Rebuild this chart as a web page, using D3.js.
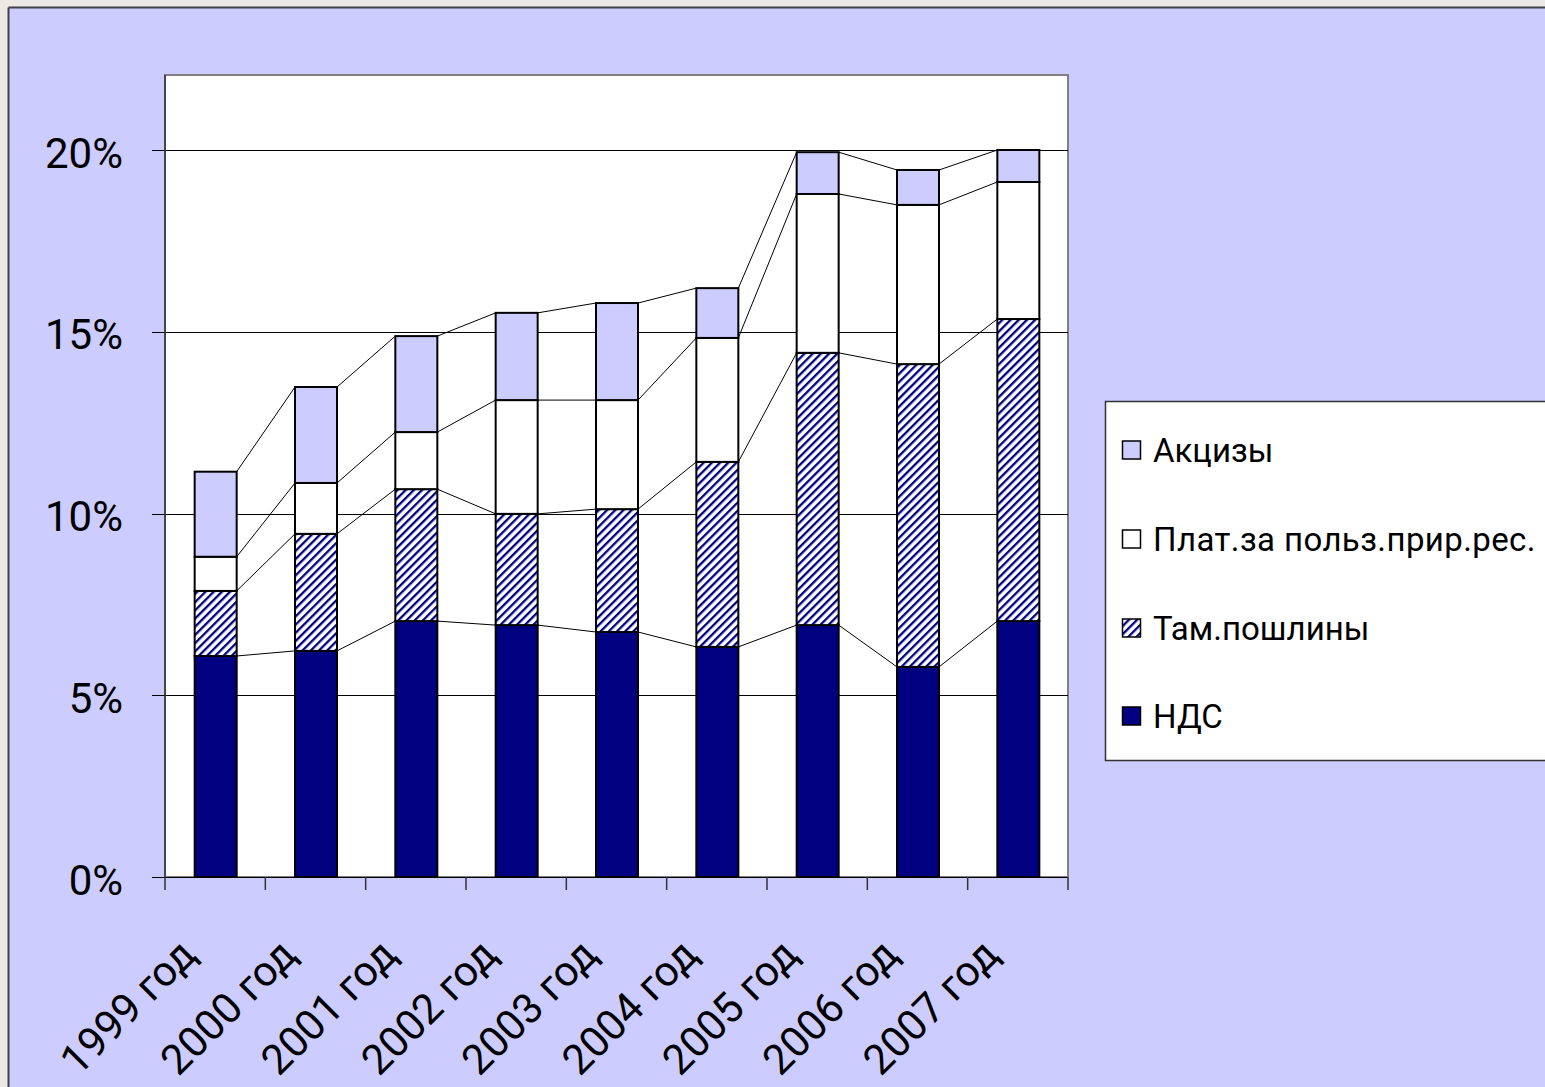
<!DOCTYPE html>
<html><head><meta charset="utf-8">
<script src="https://cdn.jsdelivr.net/npm/d3@7/dist/d3.min.js"></script>
<style>html,body{margin:0;padding:0;background:#ece9e4;overflow:hidden}</style>
</head><body>
<script>
const categories = ["1999 год","2000 год","2001 год","2002 год","2003 год","2004 год","2005 год","2006 год","2007 год"];
const nds     = [6.08, 6.22, 7.04, 6.93, 6.74, 6.33, 6.93, 5.78, 7.04];
const tam     = [1.79, 3.22, 3.63, 3.06, 3.38, 5.09, 7.49, 8.33, 8.31];
const plat    = [0.94, 1.40, 1.57, 3.13, 3.00, 3.41, 4.37, 4.38, 3.77];
const akciz   = [2.34, 2.64, 2.64, 2.40, 2.67, 1.37, 1.15, 0.96, 0.88];
const seriesNames = ["НДС","Там.пошлины","Плат.за польз.прир.рес.","Акцизы"];
const yTicks = [0,5,10,15,20];

(function(){
const W = 1545, H = 1087;
const svg = d3.select("body").append("svg").attr("width", W).attr("height", H);
const defs = svg.append("defs");
const pw = 5.8;
const pat = defs.append("pattern").attr("id","hatch").attr("patternUnits","userSpaceOnUse")
  .attr("width",pw).attr("height",pw).attr("patternTransform","rotate(45)");
pat.append("rect").attr("width",pw).attr("height",pw).attr("fill","#fff");
pat.append("rect").attr("x",0).attr("y",0).attr("width",2.3).attr("height",pw).attr("fill","#000080");

// page frame
svg.append("rect").attr("x",0).attr("y",0).attr("width",W).attr("height",H).attr("fill","#ece9e4");
svg.append("rect").attr("x",9).attr("y",8).attr("width",W).attr("height",H).attr("fill","#ccccff");
svg.append("line").attr("x1",8.5).attr("y1",7.5).attr("x2",W).attr("y2",7.5).attr("stroke","#404048").attr("stroke-width",2);
svg.append("line").attr("x1",8.5).attr("y1",7.5).attr("x2",8.5).attr("y2",H).attr("stroke","#404048").attr("stroke-width",2);

const pLeft = 165, pRight = 1068, pTop = 75, pBottom = 877;
const x = d3.scaleBand().domain(categories).range([pLeft, pRight]).paddingInner(0).paddingOuter(0);
const y = d3.scaleLinear().domain([0,20]).range([pBottom, 150]);

// plot area
svg.append("rect").attr("x",pLeft).attr("y",pTop).attr("width",pRight-pLeft).attr("height",pBottom-pTop)
  .attr("fill","#fff").attr("stroke","#808080").attr("stroke-width",2);

// grid lines
svg.selectAll("line.grid").data(yTicks).join("line")
  .attr("x1",152).attr("x2",pRight).attr("y1",d=>Math.round(y(d))+0.5).attr("y2",d=>Math.round(y(d))+0.5)
  .attr("stroke","#000").attr("stroke-width",1);
svg.append("line").attr("x1",pLeft).attr("x2",pLeft).attr("y1",pTop).attr("y2",pBottom).attr("stroke","#333").attr("stroke-width",1.5);

// y tick labels
svg.selectAll("text.ytick").data(yTicks).join("text")
  .attr("x",123).attr("y",d=>y(d)).attr("dy","0.42em").attr("text-anchor","end")
  .attr("font-family","Roboto, 'Liberation Sans', sans-serif").attr("font-size",42).attr("fill","#000")
  .text(d=>d+"%");

// x ticks
const bounds = categories.map(c=>x(c)).concat([pRight]);
svg.selectAll("line.xtick").data(bounds).join("line")
  .attr("x1",d=>d).attr("x2",d=>d).attr("y1",pBottom).attr("y2",pBottom+13)
  .attr("stroke","#333").attr("stroke-width",1.5);

// stacked data
const rows = categories.map((c,i)=>({cat:c, s0:nds[i], s1:tam[i], s2:plat[i], s3:akciz[i]}));
const stack = d3.stack().keys(["s0","s1","s2","s3"])(rows);
const fills = ["#000080","url(#hatch)","#ffffff","#ccccff"];
const barW = 42;
const bx = c => x(c) + x.bandwidth()/2 - barW/2 + 0.5;

// series lines
stack.forEach((layer)=>{
  for (let i=0;i<layer.length-1;i++){
    svg.append("line")
      .attr("x1", bx(categories[i])+barW).attr("y1", y(layer[i][1]))
      .attr("x2", bx(categories[i+1])).attr("y2", y(layer[i+1][1]))
      .attr("stroke","#000").attr("stroke-width",1);
  }
});

stack.forEach((layer,k)=>{
  svg.append("g").selectAll("rect").data(layer).join("rect")
    .attr("x", d=>bx(d.data.cat)).attr("width", barW)
    .attr("y", d=>y(d[1])).attr("height", d=>y(d[0])-y(d[1]))
    .attr("fill", fills[k]).attr("stroke","#000").attr("stroke-width",2);
});

// x labels
svg.selectAll("text.xlab").data(categories).join("text")
  .attr("transform", d=>`translate(${x(d)+x.bandwidth()/2-17},${pBottom+80}) rotate(-45)`)
  .attr("text-anchor","end")
  .attr("font-family","Roboto, 'Liberation Sans', sans-serif").attr("font-size",42).attr("fill","#000")
  .text(d=>d);

// legend
const lg = svg.append("g");
lg.append("rect").attr("x",1105.5).attr("y",401.5).attr("width",460).attr("height",359)
  .attr("fill","#fff").attr("stroke","#333").attr("stroke-width",1.5);
const legItems = [3,2,1,0];
const legY = [450, 539, 628, 716];
legItems.forEach((k,j)=>{
  lg.append("rect").attr("x",1122.5).attr("y",legY[j]-9).attr("width",18).attr("height",18)
    .attr("fill",fills[k]).attr("stroke","#000").attr("stroke-width",1.5);
  lg.append("text").attr("x",1153).attr("y",legY[j]).attr("dy","0.36em")
    .attr("font-family","Roboto, 'Liberation Sans', sans-serif").attr("font-size",33).attr("fill","#000")
    .attr("letter-spacing", k===2 ? 0.4 : 0)
    .text(seriesNames[k]);
});
})();
</script>
</body></html>
